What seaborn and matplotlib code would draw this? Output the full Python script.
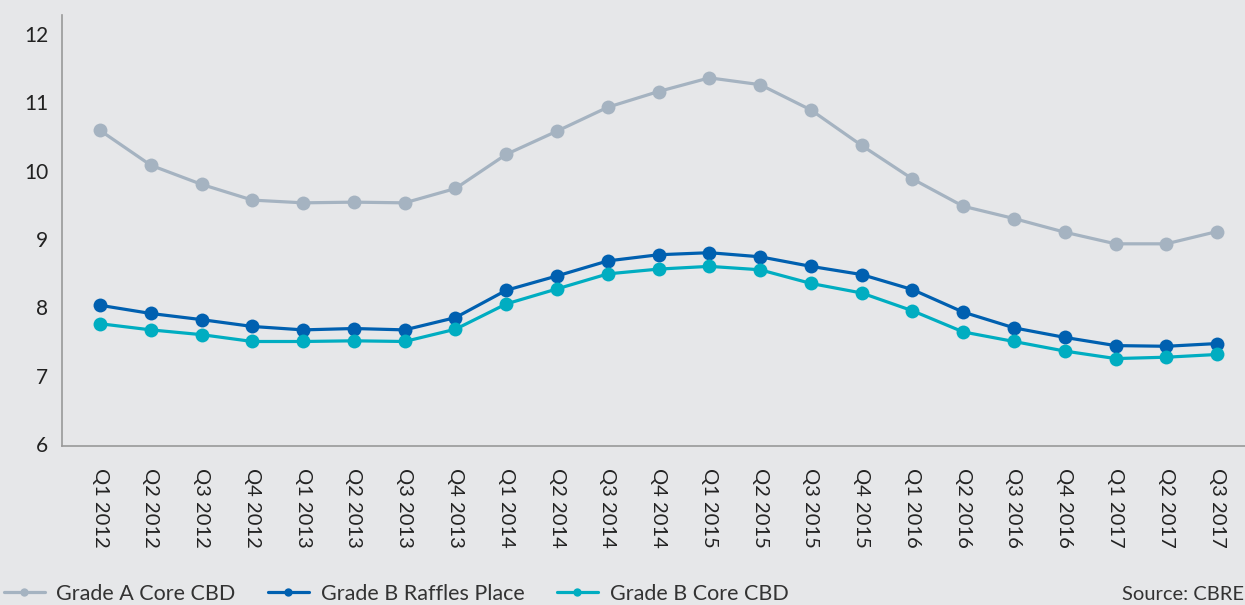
import matplotlib
matplotlib.use("Agg")
import matplotlib.pyplot as plt
from matplotlib.lines import Line2D
import seaborn as sns
import pandas as pd

quarters = ["Q1 2012", "Q2 2012", "Q3 2012", "Q4 2012",
            "Q1 2013", "Q2 2013", "Q3 2013", "Q4 2013",
            "Q1 2014", "Q2 2014", "Q3 2014", "Q4 2014",
            "Q1 2015", "Q2 2015", "Q3 2015", "Q4 2015",
            "Q1 2016", "Q2 2016", "Q3 2016", "Q4 2016",
            "Q1 2017", "Q2 2017", "Q3 2017"]

grade_a_core = [10.59, 10.08, 9.80, 9.57, 9.53, 9.54, 9.53, 9.74,
                10.24, 10.58, 10.93, 11.16, 11.36, 11.26, 10.89, 10.37,
                9.88, 9.48, 9.30, 9.10, 8.93, 8.93, 9.11]
grade_b_raffles = [8.03, 7.91, 7.82, 7.72, 7.67, 7.69, 7.67, 7.85,
                   8.25, 8.46, 8.68, 8.77, 8.80, 8.74, 8.60, 8.48,
                   8.26, 7.93, 7.70, 7.56, 7.44, 7.43, 7.47]
grade_b_core = [7.76, 7.67, 7.60, 7.50, 7.50, 7.51, 7.50, 7.68,
                8.05, 8.27, 8.49, 8.56, 8.60, 8.55, 8.35, 8.21,
                7.95, 7.64, 7.50, 7.36, 7.25, 7.27, 7.31]

series_names = ["Grade A Core CBD", "Grade B Raffles Place", "Grade B Core CBD"]
series_colors = ["#a5b3c1", "#0060b0", "#00adc1"]
yticks = [6, 7, 8, 9, 10, 11, 12]
source_text = "Source: CBRE"

bg = "#e6e7e9"
sns.set_style("white", {"axes.facecolor": bg, "figure.facecolor": bg})
plt.rcParams["font.family"] = ["Lato", "DejaVu Sans"]

rows = []
for name, vals in zip(series_names, [grade_a_core, grade_b_raffles, grade_b_core]):
    for i, (q, v) in enumerate(zip(quarters, vals)):
        rows.append({"idx": i, "quarter": q, "value": v, "series": name})
df = pd.DataFrame(rows)

fig = plt.figure(figsize=(12.45, 6.05), dpi=100)
ax = fig.add_axes([62 / 1245, 1 - 446 / 605, (1245 - 62) / 1245, (446 - 15) / 605])

sns.lineplot(data=df, x="idx", y="value", hue="series", hue_order=series_names,
             palette=series_colors, marker="o", markersize=10, markeredgewidth=0,
             linewidth=2.3, ax=ax, legend=False)

ax.set_xlim(-0.75, 22.55)
ax.set_ylim(5.97, 12.28)
ax.set_xticks(range(len(quarters)))
ax.set_xticklabels(quarters, rotation=270, fontsize=14.5, color="#222222")
ax.set_yticks(yticks)
ax.set_yticklabels([str(t) for t in yticks], fontsize=15, color="#222222")
ax.tick_params(axis="x", length=0, pad=16)
ax.tick_params(axis="y", length=0, pad=10)
ax.set_xlabel("")
ax.set_ylabel("")
for s in ["top", "right"]:
    ax.spines[s].set_visible(False)
for s in ["left", "bottom"]:
    ax.spines[s].set_color("#999999")
    ax.spines[s].set_linewidth(1.2)

handles = [Line2D([0], [0], color=c, lw=2.3, marker="o", markersize=6, markeredgewidth=0)
           for c in series_colors]
fig.legend(handles, series_names, loc="center left", bbox_to_anchor=(0.003, 1 - 594 / 605),
           ncol=3, frameon=False, fontsize=15.5, handlelength=1.9, handletextpad=0.55,
           columnspacing=1.5, borderaxespad=0, borderpad=0.0, labelcolor="#333333")
fig.text(1244 / 1245, 1 - 594 / 605, source_text, ha="right", va="center",
         fontsize=14.5, color="#333333")

fig.savefig("out.png", dpi=100, facecolor=bg)
